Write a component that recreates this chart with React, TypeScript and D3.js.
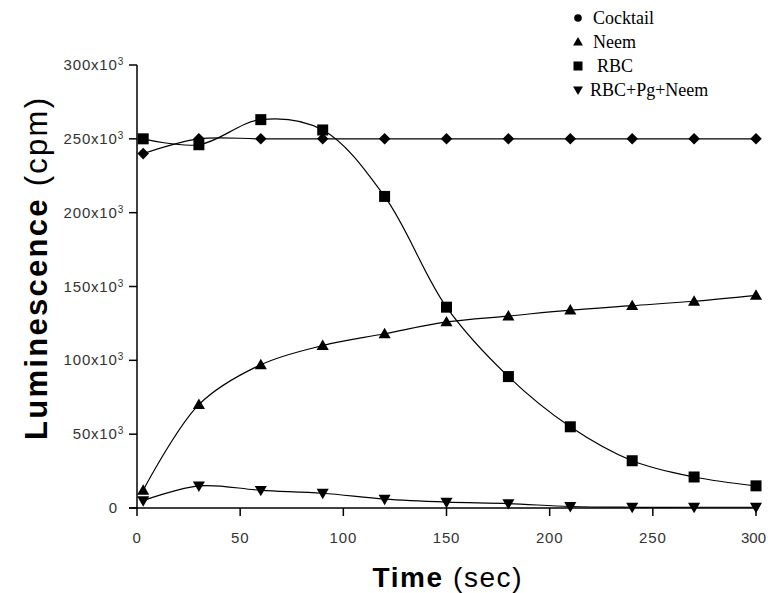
import React from "react";
import * as d3 from "d3";

const times = [3, 30, 60, 90, 120, 150, 180, 210, 240, 270, 300];
const cocktail = [240, 250, 250, 250, 250, 250, 250, 250, 250, 250, 250];
const neem = [12, 70, 97, 110, 118, 126, 130, 134, 137, 140, 144];
const rbc = [250, 246, 263, 256, 211, 136, 89, 55, 32, 21, 15];
const rbcPgNeem = [5, 15, 12, 10, 6, 4, 3, 1, 0.5, 0.5, 0.5];
const xTicks = [0, 50, 100, 150, 200, 250, 300];
const yTicks = [0, 50, 100, 150, 200, 250, 300];
const legendLabels = ["Cocktail", "Neem", "RBC", "RBC+Pg+Neem"];

const W = 768, H = 593;
const x = d3.scaleLinear().domain([0, 300]).range([137, 756]);
const y = d3.scaleLinear().domain([0, 300]).range([508, 65]);

type Shape = "diamond" | "circle" | "triangle" | "square" | "down";

function Marker({ shape, cx, cy, s = 11 }: { shape: Shape; cx: number; cy: number; s?: number }) {
  const h = s / 2;
  if (shape === "circle") return <circle cx={cx} cy={cy} r={h * 0.85} fill="#000" />;
  if (shape === "square") return <rect x={cx - h} y={cy - h} width={s} height={s} fill="#000" />;
  if (shape === "diamond")
    return <path d={`M${cx},${cy - h * 1.05}L${cx + h * 1.05},${cy}L${cx},${cy + h * 1.05}L${cx - h * 1.05},${cy}Z`} fill="#000" />;
  if (shape === "triangle")
    return <path d={`M${cx},${cy - h * 1.1}L${cx + h * 1.1},${cy + h * 0.8}L${cx - h * 1.1},${cy + h * 0.8}Z`} fill="#000" />;
  return <path d={`M${cx},${cy + h * 1.1}L${cx + h * 1.1},${cy - h * 0.8}L${cx - h * 1.1},${cy - h * 0.8}Z`} fill="#000" />;
}

const series: { name: string; vals: number[]; shape: Shape; legendShape: Shape }[] = [
  { name: legendLabels[0], vals: cocktail, shape: "diamond", legendShape: "circle" },
  { name: legendLabels[1], vals: neem, shape: "triangle", legendShape: "triangle" },
  { name: legendLabels[2], vals: rbc, shape: "square", legendShape: "square" },
  { name: legendLabels[3], vals: rbcPgNeem, shape: "down", legendShape: "down" },
];

const line = d3
  .line<[number, number]>()
  .x((d) => x(d[0]))
  .y((d) => y(d[1]))
  .curve(d3.curveCatmullRom.alpha(0.5));

export default function App() {
  return (
    <svg width={W} height={H} style={{ position: "absolute", left: 0, top: 0, background: "#fff" }}>
      <rect width={W} height={H} fill="#fff" />
      {/* axes */}
      <line x1={137} x2={137} y1={65} y2={508} stroke="#000" strokeWidth={1.5} />
      <line x1={129} x2={756} y1={508} y2={508} stroke="#000" strokeWidth={1.5} />
      {yTicks.map((t) => (
        <g key={"y" + t}>
          <line x1={129} x2={137} y1={y(t)} y2={y(t)} stroke="#000" strokeWidth={1.5} />
          <text
            x={t === 0 ? 118 : 124}
            y={y(t) + 5}
            textAnchor="end"
            fontFamily="Arial, Liberation Sans, sans-serif"
            fontSize={15}
            letterSpacing={0.8}
            fill="#333"
          >
            {t === 0 ? "0" : (
              <>
                {t + "x10"}
                <tspan fontSize={10} dy={-5}>3</tspan>
              </>
            )}
          </text>
        </g>
      ))}
      {xTicks.map((t) => (
        <g key={"x" + t}>
          <line x1={x(t)} x2={x(t)} y1={508} y2={516} stroke="#000" strokeWidth={1.5} />
          <text
            x={t === 300 ? 766 : x(t)}
            y={543}
            textAnchor={t === 300 ? "end" : "middle"}
            fontFamily="Arial, Liberation Sans, sans-serif"
            fontSize={15}
            letterSpacing={t === 300 ? 0 : 0.8}
            fill="#333"
          >
            {t}
          </text>
        </g>
      ))}
      {/* axis titles */}
      <text
        x={447}
        y={587}
        textAnchor="middle"
        fontFamily="Arial, Liberation Sans, sans-serif"
        fontSize={28}
        fill="#000"
        textLength={149}
        lengthAdjust="spacing"
      >
        <tspan fontWeight="bold">Time</tspan>
        <tspan> (sec)</tspan>
      </text>
      <text
        transform={`translate(47,269) rotate(-90)`}
        textAnchor="middle"
        fontFamily="Arial, Liberation Sans, sans-serif"
        fontSize={31}
        fill="#000"
        textLength={342}
        lengthAdjust="spacing"
      >
        <tspan fontWeight="bold">Luminescence</tspan>
        <tspan> (cpm)</tspan>
      </text>
      {/* series */}
      {series.map((s) => {
        const pts = times.map((t, i) => [t, s.vals[i]] as [number, number]);
        return (
          <g key={s.name}>
            <path d={line(pts) || ""} fill="none" stroke="#000" strokeWidth={1.2} />
            {pts.map((p, i) => (
              <Marker key={i} shape={s.shape} cx={x(p[0])} cy={y(p[1])} />
            ))}
          </g>
        );
      })}
      {/* legend */}
      {series.map((s, i) => (
        <g key={"lg" + i}>
          <Marker shape={s.legendShape} cx={578} cy={18 + i * 24} s={9} />
          <text
            x={i === 3 ? 590 : i === 2 ? 597 : 593}
            y={24 + i * 24}
            fontFamily="'Times New Roman', 'Liberation Serif', serif"
            fontSize={18}
            fill="#000"
          >
            {s.name}
          </text>
        </g>
      ))}
    </svg>
  );
}
